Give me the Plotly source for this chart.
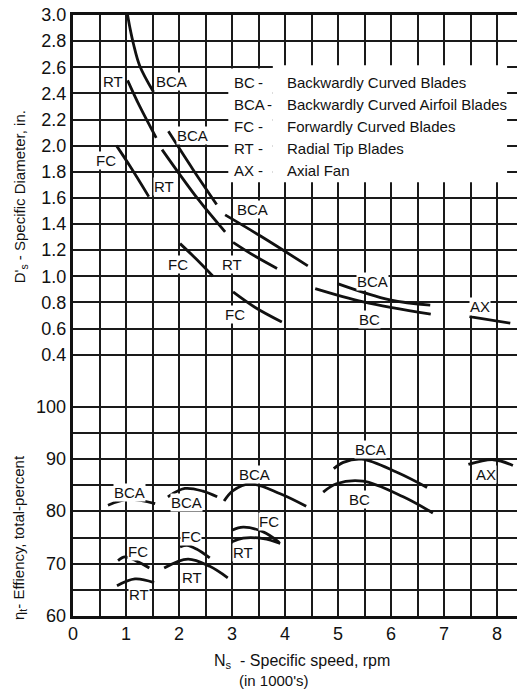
import plotly.graph_objects as go
from plotly.subplots import make_subplots

# ---------------- Specific diameter (top panel) ----------------
ds_bca_a_ns = [1.03, 1.08, 1.14, 1.26, 1.52]
ds_bca_a = [3.00, 2.89, 2.78, 2.61, 2.41]
ds_rt_a_ns = [1.03, 1.26, 1.57]
ds_rt_a = [2.50, 2.30, 2.06]
ds_fc_a_ns = [0.82, 1.08, 1.43]
ds_fc_a = [2.00, 1.84, 1.61]
ds_bca_b_ns = [1.80, 2.26, 2.71]
ds_bca_b = [2.11, 1.82, 1.55]
ds_rt_b_ns = [1.68, 2.36, 2.87]
ds_rt_b = [1.97, 1.59, 1.34]
ds_fc_b_ns = [2.02, 2.33, 2.64]
ds_fc_b = [1.25, 1.13, 1.00]
ds_bca_c_ns = [2.87, 3.53, 4.43]
ds_bca_c = [1.47, 1.31, 1.08]
ds_rt_c_ns = [3.02, 3.43, 3.85]
ds_rt_c = [1.26, 1.155, 1.06]
ds_fc_c_ns = [3.02, 3.43, 3.94]
ds_fc_c = [0.88, 0.763, 0.65]
ds_bca_d_ns = [4.99, 5.98, 6.74]
ds_bca_d = [0.944, 0.819, 0.779]
ds_bc_ns = [4.57, 5.48, 6.75]
ds_bc = [0.906, 0.804, 0.710]
ds_ax_ns = [7.48, 8.25]
ds_ax = [0.692, 0.641]

# ---------------- Efficiency (bottom panel) ----------------
eff_bca_a_ns = [0.66, 1.04, 1.55]
eff_bca_a = [81.2, 82.3, 81.5]
eff_fc_a_ns = [0.85, 0.98, 1.20, 1.44]
eff_fc_a = [70.6, 71.3, 70.5, 69.2]
eff_rt_a_ns = [0.83, 1.17, 1.53]
eff_rt_a = [65.8, 67.1, 66.4]
eff_bca_b_ns = [1.79, 2.11, 2.45, 2.72]
eff_bca_b = [82.8, 84.4, 83.9, 82.8]
eff_fc_b_ns = [2.02, 2.15, 2.33, 2.58]
eff_fc_b = [73.2, 73.5, 72.8, 71.1]
eff_rt_b_ns = [1.72, 2.17, 2.58, 2.92]
eff_rt_b = [69.2, 70.9, 69.5, 67.3]
eff_bca_c_ns = [2.85, 3.02, 3.34, 3.91, 4.40]
eff_bca_c = [82.0, 84.0, 85.3, 83.4, 81.0]
eff_fc_c_ns = [3.00, 3.21, 3.59, 3.89]
eff_fc_c = [76.4, 77.0, 76.1, 74.1]
eff_rt_c_ns = [3.00, 3.21, 3.59, 3.91]
eff_rt_c = [74.2, 74.9, 74.8, 73.9]
eff_bca_d_ns = [4.92, 5.10, 5.45, 6.11, 6.68]
eff_bca_d = [88.2, 89.4, 90.0, 87.5, 84.6]
eff_bc_ns = [4.72, 4.97, 5.47, 6.23, 6.79]
eff_bc = [83.7, 85.3, 85.8, 82.8, 79.7]
eff_ax_ns = [7.46, 7.93, 8.30]
eff_ax = [89.0, 89.9, 88.8]

# ---------------- Ticks and legend text ----------------
x_ticks = [0, 1, 2, 3, 4, 5, 6, 7, 8]
ds_ticks = [0.4, 0.6, 0.8, 1.0, 1.2, 1.4, 1.6, 1.8, 2.0, 2.2, 2.4, 2.6, 2.8, 3.0]
ds_labels = ["0.4", "0.6", "0.8", "1.0", "1.2", "1.4", "1.6", "1.8", "2.0", "2.2",
             "2.4", "2.6", "2.8", "3.0"]
eff_ticks = [60, 70, 80, 90, 100]
legend_codes = ["BC", "BCA", "FC", "RT", "AX"]
legend_names = ["Backwardly Curved Blades", "Backwardly Curved Airfoil Blades",
                "Forwardly Curved Blades", "Radial Tip Blades", "Axial Fan"]

FONT = "Liberation Sans"
INK = "#111111"
X_RANGE = [0, 8.377]
EFF_RANGE = [60, 105]

fig = make_subplots(rows=2, cols=1, shared_xaxes=True, vertical_spacing=0,
                    row_heights=[14, 9])

line_style = dict(color=INK, width=2.8, shape="spline", smoothing=1.0)

top_curves = [(ds_bca_a_ns, ds_bca_a), (ds_rt_a_ns, ds_rt_a), (ds_fc_a_ns, ds_fc_a),
              (ds_bca_b_ns, ds_bca_b), (ds_rt_b_ns, ds_rt_b), (ds_fc_b_ns, ds_fc_b),
              (ds_bca_c_ns, ds_bca_c), (ds_rt_c_ns, ds_rt_c), (ds_fc_c_ns, ds_fc_c),
              (ds_bca_d_ns, ds_bca_d), (ds_bc_ns, ds_bc), (ds_ax_ns, ds_ax)]
for xs, ys in top_curves:
    fig.add_trace(go.Scatter(x=xs, y=ys, mode="lines", line=line_style,
                             showlegend=False, hoverinfo="skip"), row=1, col=1)

bottom_curves = [(eff_bca_a_ns, eff_bca_a), (eff_fc_a_ns, eff_fc_a), (eff_rt_a_ns, eff_rt_a),
                 (eff_bca_b_ns, eff_bca_b), (eff_fc_b_ns, eff_fc_b), (eff_rt_b_ns, eff_rt_b),
                 (eff_bca_c_ns, eff_bca_c), (eff_fc_c_ns, eff_fc_c), (eff_rt_c_ns, eff_rt_c),
                 (eff_bca_d_ns, eff_bca_d), (eff_bc_ns, eff_bc), (eff_ax_ns, eff_ax)]
for xs, ys in bottom_curves:
    fig.add_trace(go.Scatter(x=xs, y=ys, mode="lines", line=line_style,
                             showlegend=False, hoverinfo="skip"), row=2, col=1)

grid_col = "#1a1a1a"
grid_w = 1.7
tick_font = dict(family=FONT, size=18, color=INK)

# grid every 0.5 in Ns and every 5 % in efficiency
fig.update_xaxes(range=X_RANGE, tickmode="linear", tick0=0, dtick=0.5,
                 showgrid=True, gridcolor=grid_col, gridwidth=grid_w, zeroline=False,
                 showticklabels=False, ticks="")
fig.update_xaxes(row=1, col=1, side="top", showline=True, linewidth=2.6, linecolor=INK)
fig.update_xaxes(row=2, col=1, showline=True, linewidth=3, linecolor=INK)

fig.update_yaxes(row=1, col=1, range=[0.2, 3.0], tickmode="array", tickvals=ds_ticks,
                 ticktext=ds_labels,
                 showgrid=True, gridcolor=grid_col, gridwidth=grid_w, zeroline=False,
                 showline=True, linewidth=3, linecolor=INK, ticks="", tickfont=tick_font)
fig.update_yaxes(row=2, col=1, range=EFF_RANGE, tickmode="linear", tick0=60, dtick=5,
                 showgrid=True, gridcolor=grid_col, gridwidth=grid_w, zeroline=False,
                 showticklabels=False,
                 showline=True, linewidth=3, linecolor=INK, ticks="")

# white area behind the key text
fig.add_shape(type="rect", xref="x", yref="y", x0=2.93, x1=3.77, y0=1.72, y1=2.59,
              fillcolor="white", line=dict(width=0), layer="above")
fig.add_shape(type="rect", xref="x", yref="y", x0=3.77, x1=8.19, y0=1.72, y1=2.615,
              fillcolor="white", line=dict(width=0), layer="above")

ann = []

# tick labels of the shared Ns axis and of the efficiency axis
for v in x_ticks:
    ann.append(dict(text=str(v), x=v, y=0, xref="x2", yref="paper", showarrow=False,
                    font=tick_font, xanchor="center", yanchor="top", yshift=-6))
for v in eff_ticks:
    ann.append(dict(text=str(v), x=0, y=v, xref="paper", yref="y2", showarrow=False,
                    font=tick_font, xanchor="right", yanchor="middle", xshift=-5))

def lab(text, x, y, xr="x", yr="y", size=15):
    ann.append(dict(text=text, x=x, y=y, xref=xr, yref=yr, showarrow=False,
                    font=dict(family=FONT, size=size, color=INK),
                    bgcolor="white", borderpad=0, xanchor="center", yanchor="middle"))

# curve labels (top)
lab("RT", 0.75, 2.49); lab("BCA", 1.85, 2.49); lab("FC", 0.62, 1.89)
lab("BCA", 2.25, 2.08); lab("RT", 1.72, 1.69); lab("BCA", 3.38, 1.51)
lab("RT", 3.00, 1.09); lab("FC", 1.98, 1.09); lab("FC", 3.06, 0.71)
lab("BCA", 5.66, 0.96); lab("BC", 5.60, 0.67); lab("AX", 7.67, 0.77)
# curve labels (bottom)
lab("BCA", 1.06, 83.7, "x2", "y2"); lab("FC", 1.22, 72.4, "x2", "y2"); lab("RT", 1.25, 64.2, "x2", "y2")
lab("BCA", 2.15, 81.8, "x2", "y2"); lab("FC", 2.22, 75.3, "x2", "y2"); lab("RT", 2.25, 67.3, "x2", "y2")
lab("BCA", 3.43, 87.1, "x2", "y2"); lab("FC", 3.70, 78.0, "x2", "y2"); lab("RT", 3.21, 72.2, "x2", "y2")
lab("BCA", 5.62, 91.9, "x2", "y2"); lab("BC", 5.40, 82.3, "x2", "y2"); lab("AX", 7.79, 87.1, "x2", "y2")

# key text
key_y0 = 2.48
key_step = 0.168
for i, (c, n) in enumerate(zip(legend_codes, legend_names)):
    yy = key_y0 - i * key_step
    ann.append(dict(text=c, x=3.0, y=yy, xref="x", yref="y", showarrow=False,
                    font=dict(family=FONT, size=15, color=INK), xanchor="left", yanchor="middle"))
    ann.append(dict(text="-", x=3.70 if c == "BCA" else 3.53, y=yy, xref="x", yref="y", showarrow=False,
                    font=dict(family=FONT, size=15, color=INK), xanchor="center", yanchor="middle"))
    ann.append(dict(text=n, x=4.0, y=yy, xref="x", yref="y", showarrow=False,
                    font=dict(family=FONT, size=15, color=INK), xanchor="left", yanchor="middle"))

# axis titles
ann.append(dict(text="D'<sub>s</sub> - Specific Diameter, in.", x=-0.119, y=0.697,
                xref="paper", yref="paper", textangle=-90, showarrow=False,
                font=dict(family=FONT, size=15, color=INK), xanchor="center", yanchor="middle"))
ann.append(dict(text="η<sub>t</sub>- Effiency, total-percent", x=-0.119, y=0.13,
                xref="paper", yref="paper", textangle=-90, showarrow=False,
                font=dict(family=FONT, size=15, color=INK), xanchor="center", yanchor="middle"))
ann.append(dict(text="N<sub>s</sub>  - Specific speed, rpm", x=0.516, y=-0.0765,
                xref="paper", yref="paper", showarrow=False,
                font=dict(family=FONT, size=16, color=INK), xanchor="center", yanchor="middle"))
ann.append(dict(text="(in 1000's)", x=0.453, y=-0.108,
                xref="paper", yref="paper", showarrow=False,
                font=dict(family=FONT, size=15, color=INK), xanchor="center", yanchor="middle"))

fig.update_layout(width=517, height=690, margin=dict(l=73, r=0, t=15, b=74),
                  paper_bgcolor="white", plot_bgcolor="white", annotations=ann,
                  showlegend=False)

fig.write_html("out.html", config={"displayModeBar": False},
               post_script="document.body.style.margin='0px';document.body.style.overflow='hidden';")
